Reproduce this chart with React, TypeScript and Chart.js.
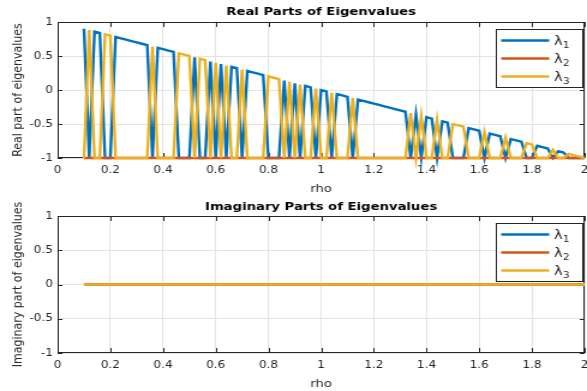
import React, { useEffect, useRef } from 'react';
import { Chart, registerables } from 'chart.js';

Chart.register(...registerables);

// ---------------- data ----------------
const rho = [
  0.1, 0.12, 0.14, 0.16, 0.18, 0.2, 0.22, 0.24, 0.26, 0.28,
  0.3, 0.32, 0.34, 0.36, 0.38, 0.4, 0.42, 0.44, 0.46, 0.48,
  0.5, 0.52, 0.54, 0.56, 0.58, 0.6, 0.62, 0.64, 0.66, 0.68,
  0.7, 0.72, 0.74, 0.76, 0.78, 0.8, 0.82, 0.84, 0.86, 0.88,
  0.9, 0.92, 0.94, 0.96, 0.98, 1, 1.02, 1.04, 1.06, 1.08,
  1.1, 1.12, 1.14, 1.16, 1.18, 1.2, 1.22, 1.24, 1.26, 1.28,
  1.3, 1.32, 1.34, 1.36, 1.38, 1.4, 1.42, 1.44, 1.46, 1.48,
  1.5, 1.52, 1.54, 1.56, 1.58, 1.6, 1.62, 1.64, 1.66, 1.68,
  1.7, 1.72, 1.74, 1.76, 1.78, 1.8, 1.82, 1.84, 1.86, 1.88,
  1.9, 1.92, 1.94, 1.96, 1.98, 2,
];

const realLambda1 = [
  0.9, -1, 0.86, 0.84, -1, -1, 0.78, 0.76, 0.74, 0.72,
  0.7, 0.68, 0.66, -1, 0.62, 0.6, 0.58, 0.56, -1, -1,
  -1, 0.48, -1, -1, 0.42, -1, 0.38, -1, 0.34, 0.32,
  -1, 0.28, 0.26, 0.24, 0.22, -1, -1, -1, 0.14, -1,
  0.1, -1, 0.06, 0.04, -1, 0, -0.02, -1, -0.06, -0.08,
  -0.1, -1, -0.14, -0.16, -0.18, -0.2, -0.22, -0.24, -0.26, -0.28,
  -0.3, -0.32, -1, -0.36, -1, -0.4, -0.42, -1, -0.46, -0.48,
  -1, -1, -1, -0.56, -0.58, -0.6, -1, -0.64, -0.66, -0.68,
  -1, -0.72, -0.74, -0.76, -1, -1, -0.82, -0.84, -0.86, -1,
  -0.9, -0.92, -1, -1, -1, -1,
];

const realLambda2 = [
  -1, -1, -1, -1, -1, -1, -1, -1, -1, -1,
  -1, -1, -1, -1, -1, -1, -1, -1, -1, -1,
  -1, -1, -1, -1, -1, -1, -1, -1, -1, -1,
  -1, -1, -1, -1, -1, -1, -1, -1, -1, -1,
  -1, -1, -1, -1, -1, -1, -1, -1, -1, -1,
  -1, -1, -1, -1, -1, -1, -1, -1, -1, -1,
  -1, -1, -1, -1, -1, -1, -1, -1, -1, -1,
  -1, -1, -1, -1, -1, -1, -1, -1, -1, -1,
  -1, -1, -1, -1, -1, -1, -1, -1, -1, -1,
  -1, -1, -1, -1, -1, -1,
];

const realLambda3 = [
  -1, 0.88, -1, -1, 0.82, 0.8, -1, -1, -1, -1,
  -1, -1, -1, 0.64, -1, -1, -1, -1, 0.54, 0.52,
  0.5, -1, 0.46, 0.44, -1, 0.4, -1, 0.36, -1, -1,
  0.3, -1, -1, -1, -1, 0.2, 0.18, 0.16, -1, 0.12,
  -1, 0.08, -1, -1, 0.02, -1, -1, -0.04, -1, -1,
  -1, -0.12, -1, -1, -1, -1, -1, -1, -1, -1,
  -1, -1, -0.34, -1, -0.38, -1, -1, -0.44, -1, -1,
  -0.5, -0.52, -0.54, -1, -1, -1, -0.62, -1, -1, -1,
  -0.7, -1, -1, -1, -0.78, -0.8, -1, -1, -1, -0.88,
  -1, -1, -0.94, -0.96, -0.98, -1,
];

const imagRho = [0.1, 2];
const imagLambda1 = [0, 0];
const imagLambda2 = [0, 0];
const imagLambda3 = [0, 0];

const xTicks = [0, 0.2, 0.4, 0.6, 0.8, 1, 1.2, 1.4, 1.6, 1.8, 2];
const xTickLabels = ['0', '0.2', '0.4', '0.6', '0.8', '1', '1.2', '1.4', '1.6', '1.8', '2'];
const yTicks = [-1, -0.5, 0, 0.5, 1];
const yTickLabels = ['-1', '-0.5', '0', '0.5', '1'];

const seriesSymbol = ['λ', 'λ', 'λ'];
const seriesSub = ['1', '2', '3'];
const seriesColors = ['#0072BD', '#D95319', '#EDB120'];

// ---------------- layout ----------------
const LOGICAL_W = 489;
const PAGE_W = 587;
const FONT = '"DejaVu Sans", "Liberation Sans", sans-serif';
const INK = '#262626';
const LINE_W = 2.4;

type PanelProps = {
  height: number;
  pageTop: number;
  chartTop: number;
  chartBottom: number;
  title: string;
  yLabel: string;
  xs: number[];
  series: number[][];
};

function makeDecor(title: string, yLabel: string) {
  return {
    id: 'matlabDecor',
    beforeDatasetsDraw(chart: any) {
      const { ctx, chartArea: a } = chart;
      const xs = chart.scales.x;
      const ys = chart.scales.y;
      ctx.save();
      ctx.strokeStyle = INK;
      ctx.lineWidth = 1;
      ctx.beginPath();
      for (const v of xTicks) {
        const px = Math.round(xs.getPixelForValue(v)) + 0.5;
        ctx.moveTo(px, a.bottom);
        ctx.lineTo(px, a.bottom - 5);
        ctx.moveTo(px, a.top);
        ctx.lineTo(px, a.top + 5);
      }
      for (const v of yTicks) {
        const py = Math.round(ys.getPixelForValue(v)) + 0.5;
        ctx.moveTo(a.left, py);
        ctx.lineTo(a.left + 4, py);
        ctx.moveTo(a.right, py);
        ctx.lineTo(a.right - 4, py);
      }
      ctx.stroke();
      ctx.strokeRect(
        Math.round(a.left) + 0.5,
        Math.round(a.top) + 0.5,
        Math.round(a.right) - Math.round(a.left) - 1,
        Math.round(a.bottom) - Math.round(a.top) - 1
      );
      ctx.restore();
    },
    afterDraw(chart: any) {
      const { ctx, chartArea: a } = chart;
      const cx = (a.left + a.right) / 2;
      const cy = (a.top + a.bottom) / 2;
      ctx.save();
      // title
      ctx.fillStyle = '#000';
      ctx.font = `bold 11px ${FONT}`;
      ctx.textAlign = 'center';
      ctx.textBaseline = 'alphabetic';
      ctx.fillText(title, cx, 15);
      // x label
      ctx.fillStyle = INK;
      ctx.font = `11px ${FONT}`;
      ctx.fillText('rho', cx, 191.5);
      // y label
      ctx.save();
      ctx.translate(17.5, cy);
      ctx.rotate(-Math.PI / 2);
      ctx.fillText(yLabel, 0, 0);
      ctx.restore();
      // legend
      const lx0 = Math.round(a.right - 74.5) + 0.5;
      const lx1 = Math.round(a.right - 2.5) + 0.5;
      const ly0 = Math.round(a.top + 7) + 0.5;
      const ly1 = Math.round(a.top + 65) + 0.5;
      ctx.fillStyle = '#fff';
      ctx.fillRect(lx0, ly0, lx1 - lx0, ly1 - ly0);
      ctx.strokeStyle = INK;
      ctx.lineWidth = 1;
      ctx.strokeRect(lx0, ly0, lx1 - lx0, ly1 - ly0);
      for (let i = 0; i < 3; i++) {
        const y = ly0 + 11 + i * 18;
        ctx.strokeStyle = seriesColors[i];
        ctx.lineWidth = LINE_W;
        ctx.beginPath();
        ctx.moveTo(lx0 + 4, y);
        ctx.lineTo(lx0 + 44, y);
        ctx.stroke();
        ctx.fillStyle = INK;
        ctx.textAlign = 'left';
        ctx.font = `12px ${FONT}`;
        const tx = lx0 + 48;
        ctx.fillText(seriesSymbol[i], tx, y + 4);
        const w = ctx.measureText(seriesSymbol[i]).width;
        ctx.font = `8.5px ${FONT}`;
        ctx.fillText(seriesSub[i], tx + w + 0.5, y + 7.5);
      }
      ctx.restore();
    },
  };
}

function Panel(props: PanelProps) {
  const ref = useRef<HTMLCanvasElement | null>(null);
  useEffect(() => {
    const canvas = ref.current;
    if (!canvas) return;
    const { height, chartTop, chartBottom, title, yLabel, xs, series } = props;
    const chart = new Chart(canvas, {
      type: 'line',
      data: {
        datasets: series.map((s, i) => ({
          label: seriesSymbol[i] + seriesSub[i],
          data: xs.map((x, j) => ({ x, y: s[j] })),
          borderColor: seriesColors[i],
          backgroundColor: seriesColors[i],
          borderWidth: LINE_W,
          pointRadius: 0,
          pointHoverRadius: 0,
          fill: false,
          tension: 0,
          order: 3 - i,
          clip: false,
        })),
      },
      options: {
        animation: false,
        responsive: false,
        maintainAspectRatio: false,
        events: [],
        layout: { padding: { top: chartTop, right: 2, left: 0, bottom: 0 } },
        plugins: {
          legend: { display: false },
          tooltip: { enabled: false },
          title: { display: false },
        },
        scales: {
          x: {
            type: 'linear',
            min: 0,
            max: 2,
            afterBuildTicks: (s: any) => {
              s.ticks = xTicks.map((v) => ({ value: v }));
            },
            ticks: {
              callback: (_v: any, i: number) => xTickLabels[i],
              font: { family: FONT, size: 10 },
              color: INK,
              padding: 6,
              maxRotation: 0,
              autoSkip: false,
            },
            grid: { color: '#e3e3e3', drawTicks: false, lineWidth: 1 },
            border: { display: false },
            afterFit: (s: any) => {
              s.height = height - chartBottom;
              s.paddingLeft = 0;
              s.paddingRight = 0;
            },
          },
          y: {
            type: 'linear',
            min: -1,
            max: 1,
            afterBuildTicks: (s: any) => {
              s.ticks = yTicks.map((v) => ({ value: v }));
            },
            ticks: {
              callback: (_v: any, i: number) => yTickLabels[i],
              font: { family: FONT, size: 10 },
              color: INK,
              padding: 4,
              autoSkip: false,
            },
            grid: { color: '#e3e3e3', drawTicks: false, lineWidth: 1 },
            border: { display: false },
            afterFit: (s: any) => {
              s.width = 48;
              s.paddingTop = 0;
              s.paddingBottom = 0;
            },
          },
        },
      },
      plugins: [makeDecor(title, yLabel)],
    } as any);
    return () => chart.destroy();
  }, []);
  return (
    <canvas
      ref={ref}
      width={LOGICAL_W}
      height={props.height}
      style={{
        position: 'absolute',
        left: 0,
        top: props.pageTop,
        width: PAGE_W + 'px',
        height: props.height + 'px',
        display: 'block',
      }}
    />
  );
}

export default function App() {
  return (
    <div
      style={{
        position: 'absolute',
        left: 0,
        top: 0,
        width: PAGE_W,
        height: 391,
        background: '#fff',
        overflow: 'hidden',
      }}
    >
      <Panel
        height={195}
        pageTop={0}
        chartTop={22}
        chartBottom={158}
        title="Real Parts of Eigenvalues"
        yLabel="Real part of eigenvalues"
        xs={rho}
        series={[realLambda1, realLambda2, realLambda3]}
      />
      <Panel
        height={196}
        pageTop={195}
        chartTop={21}
        chartBottom={158}
        title="Imaginary Parts of Eigenvalues"
        yLabel="Imaginary part of eigenvalues"
        xs={imagRho}
        series={[imagLambda1, imagLambda2, imagLambda3]}
      />
    </div>
  );
}
